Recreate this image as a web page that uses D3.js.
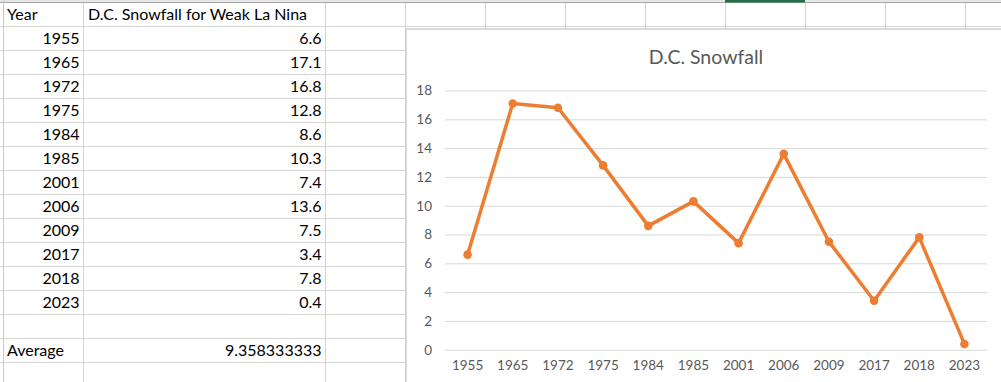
<!DOCTYPE html>
<html><head><meta charset="utf-8">
<script src="https://cdn.jsdelivr.net/npm/d3@7"></script>
<style>html,body{margin:0;padding:0;background:#fff;overflow:hidden}</style>
</head><body>
<svg id="c" width="1001" height="382"></svg>
<script>
const years = ["1955","1965","1972","1975","1984","1985","2001","2006","2009","2017","2018","2023"];
const snowfall = [6.6,17.1,16.8,12.8,8.6,10.3,7.4,13.6,7.5,3.4,7.8,0.4];
const yTicks = [0,2,4,6,8,10,12,14,16,18];
const headerLabels = ["Year","D.C. Snowfall for Weak La Nina"];
const averageLabel = "Average";
const averageValue = "9.358333333";
const chartTitle = "D.C. Snowfall";

const svg = d3.select("#c");
const font = "Lato, 'Open Sans', sans-serif";
const gridCol = "#d4d4d4";

// spreadsheet background grid
const rowLines = d3.range(15).map(i => 26 + 24 * i);
const colLines = [83, 325, 405, 485, 565, 645, 725, 805, 885, 965];
svg.append("rect").attr("x",0).attr("y",0).attr("width",1001).attr("height",2.5).attr("fill","#e6e6e6");
svg.append("line").attr("x1",0).attr("x2",1001).attr("y1",2.5).attr("y2",2.5).attr("stroke","#a6a6a6").attr("stroke-width",1);
svg.append("rect").attr("x",725).attr("y",0).attr("width",80).attr("height",2.5).attr("fill","#217346");
svg.append("line").attr("x1",3.5).attr("x2",3.5).attr("y1",0).attr("y2",382).attr("stroke","#c8c8c8");
svg.selectAll(".rl").data(rowLines).enter().append("line")
  .attr("x1",0).attr("x2",1001).attr("y1",d=>d+0.5).attr("y2",d=>d+0.5)
  .attr("stroke",gridCol).attr("stroke-width",1);
svg.selectAll(".cl").data(colLines).enter().append("line")
  .attr("x1",d=>d+0.5).attr("x2",d=>d+0.5).attr("y1",3).attr("y2",382)
  .attr("stroke",gridCol).attr("stroke-width",1);

// cell text
const cellFont = 16;
const rowCenter = i => 26 + 24 * i - 12 + 0.5;
svg.append("text").attr("x",7).attr("y",rowCenter(0)).attr("dy","0.35em")
  .attr("font-family",font).attr("font-size",cellFont).attr("fill","#000").text(headerLabels[0]);
svg.append("text").attr("x",88).attr("y",rowCenter(0)).attr("dy","0.35em")
  .attr("font-family",font).attr("font-size",cellFont).attr("fill","#000").text(headerLabels[1]);
years.forEach((yr,i) => {
  svg.append("text").attr("x",79.5).attr("y",rowCenter(i+1)).attr("dy","0.35em").attr("text-anchor","end")
    .attr("font-family",font).attr("font-size",cellFont).attr("fill","#000").text(yr);
  svg.append("text").attr("x",321.5).attr("y",rowCenter(i+1)).attr("dy","0.35em").attr("text-anchor","end")
    .attr("font-family",font).attr("font-size",cellFont).attr("fill","#000").text(snowfall[i]);
});
svg.append("text").attr("x",7).attr("y",rowCenter(14)).attr("dy","0.35em")
  .attr("font-family",font).attr("font-size",cellFont).attr("fill","#000").text(averageLabel);
svg.append("text").attr("x",321.5).attr("y",rowCenter(14)).attr("dy","0.35em").attr("text-anchor","end")
  .attr("font-family",font).attr("font-size",cellFont).attr("fill","#000").text(averageValue);

// chart area
svg.append("rect").attr("x",406).attr("y",29).attr("width",700).attr("height",400)
  .attr("fill","#fff").attr("stroke","#d0d0d0").attr("stroke-width",1.5);

const x = d3.scaleBand().domain(years).range([445, 987]);
const y = d3.scaleLinear().domain([0,18]).range([349.7, 90.5]);

svg.append("text").attr("x",706).attr("y",57).attr("dy","0.35em").attr("text-anchor","middle")
  .attr("font-family",font).attr("font-size",19.5).attr("fill","#595959").text(chartTitle);

const yAxis = d3.axisLeft(y).tickValues(yTicks).tickSize(-(987-445)).tickPadding(13).tickFormat(d3.format("d"));
const gy = svg.append("g").attr("transform","translate(445,0)").call(yAxis);
gy.select(".domain").remove();
gy.selectAll(".tick line").attr("stroke","#d9d9d9").attr("stroke-width",1);
gy.selectAll(".tick text").attr("font-family",font).attr("font-size",13.5).attr("fill","#595959");

const xAxis = d3.axisBottom(x).tickSize(0).tickPadding(11);
const gx = svg.append("g").attr("transform","translate(0,349.7)").call(xAxis);
gx.select(".domain").remove();
gx.selectAll(".tick text").attr("font-family",font).attr("font-size",13.5).attr("fill","#595959");

const cx = d => x(d) + x.bandwidth()/2;
const line = d3.line().x((d,i)=>cx(years[i])).y(d=>y(d));
svg.append("path").datum(snowfall).attr("d",line).attr("fill","none")
  .attr("stroke","#ED7D31").attr("stroke-width",3.5).attr("stroke-linejoin","round").attr("stroke-linecap","round");
svg.selectAll(".pt").data(snowfall).enter().append("circle")
  .attr("cx",(d,i)=>cx(years[i])).attr("cy",d=>y(d)).attr("r",4.3).attr("fill","#ED7D31");
</script>
</body></html>
